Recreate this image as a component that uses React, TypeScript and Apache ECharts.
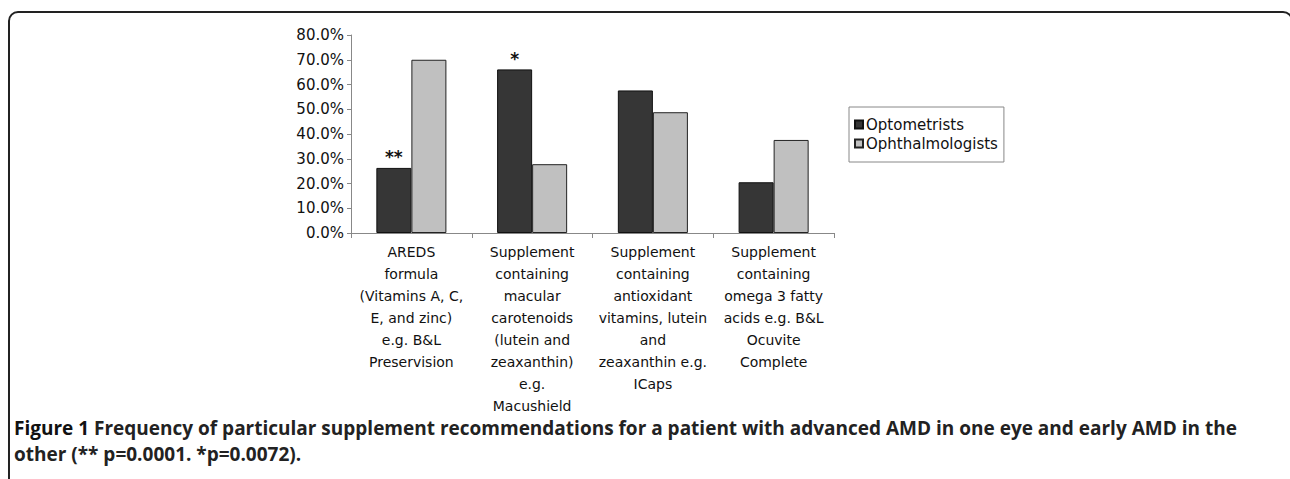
import React, { useEffect, useRef } from "react";
import * as echarts from "echarts";

const categories = [
  "AREDS\nformula\n(Vitamins A, C,\nE, and zinc)\ne.g. B&L\nPreservision",
  "Supplement\ncontaining\nmacular\ncarotenoids\n(lutein and\nzeaxanthin)\ne.g.\nMacushield",
  "Supplement\ncontaining\nantioxidant\nvitamins, lutein\nand\nzeaxanthin e.g.\nICaps",
  "Supplement\ncontaining\nomega 3 fatty\nacids e.g. B&L\nOcuvite\nComplete",
];
const optometrists = [26.3, 66.1, 57.6, 20.5];
const ophthalmologists = [70.0, 27.8, 48.8, 37.6];
const optometristMarks = ["**", "*", "", ""];
const ophthalmologistMarks = ["", "", "", ""];
const seriesNames = ["Optometrists", "Ophthalmologists"];
const captionBold = "Figure 1";
const captionLine1 = " Frequency of particular supplement recommendations for a patient with advanced AMD in one eye and early AMD in the";
const captionLine2 = "other (** p=0.0001. *p=0.0072).";

const FONT = "DejaVu Sans";

function withMarks(values: number[], marks: string[]) {
  return values.map((v, i) =>
    marks[i]
      ? {
          value: v,
          label: {
            show: true,
            position: "top",
            formatter: marks[i],
            fontFamily: FONT,
            fontSize: 17,
            fontWeight: "bold",
            color: "#111",
            distance: 2,
          },
        }
      : v
  );
}

export default function App() {
  const ref = useRef<HTMLDivElement>(null);
  useEffect(() => {
    if (!ref.current) return;
    const chart = echarts.init(ref.current, null, { renderer: "svg" });
    chart.setOption({
      animation: false,
      backgroundColor: "#ffffff",
      grid: { left: 351, right: 456, top: 35, bottom: 246 },
      legend: {
        orient: "vertical",
        left: 849,
        top: 107,
        data: seriesNames,
        icon: "rect",
        itemWidth: 8,
        itemHeight: 8,
        itemGap: 4,
        padding: [10, 6, 11, 5],
        borderColor: "#888",
        borderWidth: 1,
        textStyle: { fontFamily: FONT, fontSize: 15, color: "#111", padding: [0, 0, 0, -2] },
      },
      xAxis: {
        type: "category",
        data: categories,
        axisLine: { lineStyle: { color: "#888", width: 1 } },
        axisTick: { show: true, length: 5, lineStyle: { color: "#888" } },
        axisLabel: {
          interval: 0,
          fontFamily: FONT,
          fontSize: 14,
          lineHeight: 22,
          color: "#111",
          margin: 8,
          align: "center",
        },
      },
      yAxis: {
        type: "value",
        min: 0,
        max: 80,
        interval: 10,
        splitLine: { show: false },
        axisLine: { show: true, lineStyle: { color: "#888", width: 1 } },
        axisTick: { show: true, length: 4, lineStyle: { color: "#888" } },
        axisLabel: {
          fontFamily: FONT,
          fontSize: 15,
          color: "#111",
          margin: 7,
          formatter: (v: number) => v.toFixed(1) + "%",
        },
      },
      series: [
        {
          name: seriesNames[0],
          type: "bar",
          data: withMarks(optometrists, optometristMarks),
          barGap: "0%",
          barCategoryGap: "42%",
          itemStyle: { color: "#363636", borderColor: "#111", borderWidth: 1 },
        },
        {
          name: seriesNames[1],
          type: "bar",
          data: withMarks(ophthalmologists, ophthalmologistMarks),
          barGap: "0%",
          barCategoryGap: "42%",
          itemStyle: { color: "#c0c0c0", borderColor: "#222", borderWidth: 1 },
        },
      ],
      graphic: [
        {
          type: "rect",
          shape: { x: 9, y: 12, width: 1283, height: 700, r: 9 },
          style: { fill: "none", stroke: "#222", lineWidth: 2 },
          silent: true,
        },
        {
          type: "text",
          left: 14,
          top: 418,
          style: {
            text: "{b|" + captionBold + "}{n|" + captionLine1 + "}\n{n|" + captionLine2 + "}",
            rich: {
              b: { fontFamily: "Open Sans", fontSize: 19, fontWeight: "bold", fill: "#111", lineHeight: 26 },
              n: { fontFamily: "Open Sans", fontSize: 19, fontWeight: "bold", fill: "#222", lineHeight: 26 },
            },
          },
        },
      ],
    });
    return () => chart.dispose();
  }, []);
  return (
    <div
      ref={ref}
      style={{ position: "fixed", left: 0, top: 0, width: 1290, height: 479, background: "#fff" }}
    />
  );
}
